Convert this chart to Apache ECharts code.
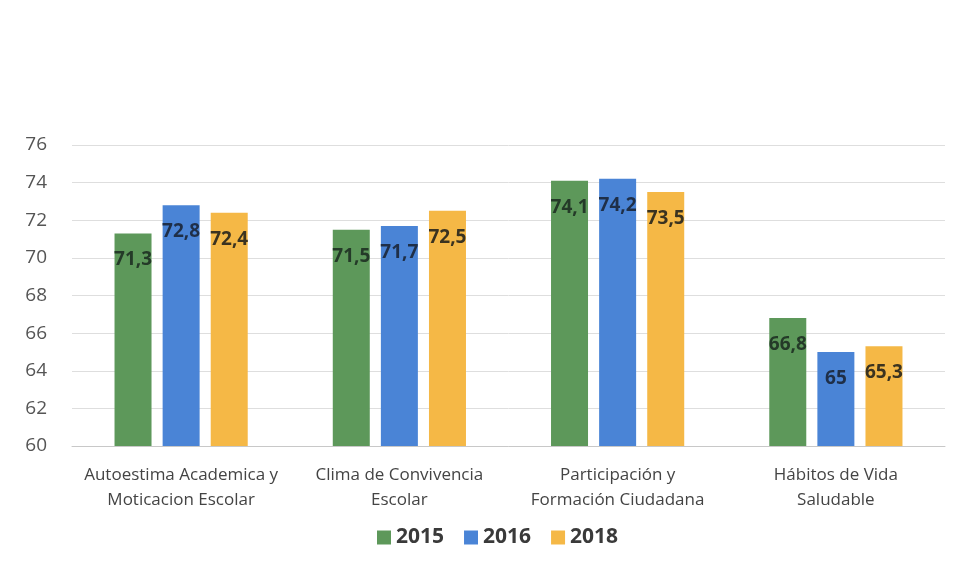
<!DOCTYPE html>
<html>
<head>
<meta charset="utf-8">
<script src="https://cdn.jsdelivr.net/npm/echarts@6/dist/echarts.min.js"></script>
<style>
  html, body { margin: 0; padding: 0; background: #fff; }
  #chart { width: 960px; height: 568px; }
</style>
</head>
<body>
<div id="chart"></div>
<script>
const categories = [
  "Autoestima Academica y\nMoticacion Escolar",
  "Clima de Convivencia\nEscolar",
  "Participación y\nFormación Ciudadana",
  "Hábitos de Vida\nSaludable"
]
const years = ["2015", "2016", "2018"]
const values2015 = [71.3, 71.5, 74.1, 66.8]
const values2016 = [72.8, 71.7, 74.2, 65]
const values2018 = [72.4, 72.5, 73.5, 65.3]
const yTicks = { min: 60, max: 76, interval: 2 }

const colors = ["#5d985a", "#4a84d6", "#f5b846"]
const labelColors = ["#243a28", "#1f2f48", "#3b3320"]

const fmt = (p) => String(p.value).replace(".", ",")

const makeSeries = (name, data, i) => ({
  name: name,
  type: "bar",
  data: data,
  barWidth: 37,
  barGap: "30%",
  itemStyle: { color: colors[i] },
  label: {
    show: true,
    position: "insideTop",
    distance: 17,
    formatter: fmt,
    fontFamily: "Open Sans",
    fontWeight: "bold",
    fontSize: 19,
    color: labelColors[i]
  }
})

const chart = echarts.init(document.getElementById("chart"))
chart.setOption({
  animation: false,
  color: colors,
  grid: { left: 72, right: 15, top: 145, bottom: 122 },
  legend: {
    top: 522,
    left: 372,
    itemWidth: 14,
    itemHeight: 14,
    itemGap: 20,
    icon: "rect",
    textStyle: { fontFamily: "Open Sans", fontWeight: "bold", fontSize: 21, color: "#3a3a3a" },
    data: years
  },
  xAxis: {
    type: "category",
    data: categories,
    axisTick: { show: false },
    axisLine: { lineStyle: { color: "#c8c8c8" } },
    axisLabel: {
      interval: 0,
      margin: 17,
      fontFamily: "Open Sans",
      fontSize: 17,
      lineHeight: 25,
      color: "#444"
    }
  },
  yAxis: {
    type: "value",
    min: yTicks.min,
    max: yTicks.max,
    interval: yTicks.interval,
    axisLine: { show: false },
    axisTick: { show: false },
    axisLabel: { fontFamily: "Open Sans", fontSize: 19, color: "#555", margin: 25 },
    splitLine: { lineStyle: { color: "#dedede" } }
  },
  series: [
    makeSeries(years[0], values2015, 0),
    makeSeries(years[1], values2016, 1),
    makeSeries(years[2], values2018, 2)
  ]
})
</script>
</body>
</html>
